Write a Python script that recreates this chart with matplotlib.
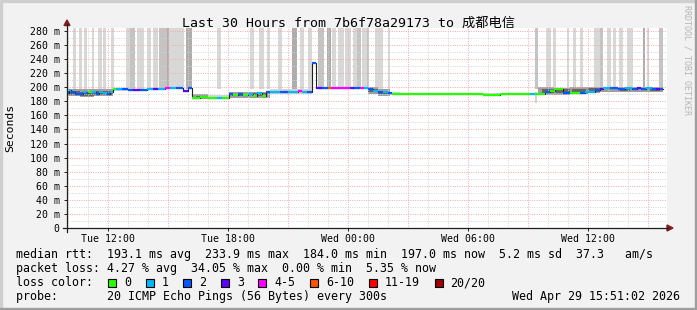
import numpy as np
import matplotlib
matplotlib.use('Agg')
import matplotlib.pyplot as plt
from matplotlib.lines import Line2D
from matplotlib.patches import Polygon, Rectangle

plt.rcParams['font.family'] = ['DejaVu Sans Mono', 'Noto Sans CJK SC']

W, H = 697, 310

# time axis: hours since Tue 00:00
t_start, t_end = 9.95, 39.95

# median rtt (ms), step segments starting at med_t, with loss class
med_t = [9.95, 10.05, 10.15, 10.35, 10.55, 10.75, 10.90, 11.00, 11.20, 11.40, 11.55, 11.75, 11.95, 12.10,
         12.25, 12.40, 12.70, 13.00, 13.25, 13.60, 13.95, 14.25, 14.50, 14.85, 15.10, 15.40, 15.75, 16.00,
         16.20, 16.60, 16.95, 17.45, 17.70, 18.05, 18.25, 18.50, 18.75, 19.00, 19.25, 19.45, 19.70, 19.90,
         20.10, 20.60, 21.00, 21.50, 21.70, 21.95, 22.20, 22.40, 22.70, 23.00, 23.15, 24.10, 24.30, 24.60,
         24.80, 25.00, 25.25, 25.50, 25.75, 26.00, 26.20, 30.25, 30.45, 30.75, 31.60, 31.85, 32.10, 32.35,
         32.60, 33.10, 33.35, 33.50, 33.85, 34.10, 34.35, 34.75, 35.10, 35.35, 35.60, 35.85, 36.10, 36.35,
         36.60, 36.75, 37.10, 37.50, 37.85, 38.20, 38.45, 38.65, 38.90, 39.20, 39.40, 39.60]
med_v = [192, 196, 193, 191, 190, 193, 192, 194, 193, 191, 194, 192, 190, 193,
         197, 197, 197, 196, 196, 196, 197, 197, 197, 199, 199, 199, 195, 199,
         185, 186, 185, 185, 185, 190, 189, 190, 189, 191, 188, 192, 187, 193,
         194, 194, 194, 195, 194, 194, 234, 199, 199, 199, 199, 199, 199, 199,
         199, 197, 195, 194, 193, 192, 190.5, 191, 190, 189, 190, 191, 190, 191,
         190, 190, 191, 191, 193, 195, 197, 192, 192, 191.5, 192, 193, 194, 196,
         197, 199, 199, 198, 199, 198, 199, 198, 199, 198, 198, 197]
med_loss = [2, 1, 2, 2, 2, 1, 2, 0, 1, 2, 1, 1, 2, 1,
            0, 1, 2, 2, 3, 2, 1, 3, 1, 4, 1, 2, 3, 2,
            0, 0, 0, 1, 0, 2, 0, 2, 0, 1, 0, 1, 0, 2,
            1, 2, 1, 4, 1, 2, 2, 3, 2, 5, 4, 3, 2, 4,
            1, 2, 1, 2, 1, 2, 0, 0, 0, 0, 0, 0, 0, 0,
            0, 1, 0, 0, 2, 0, 0, 2, 0, 0, 2, 1, 1, 2,
            3, 1, 2, 2, 1, 2, 3, 2, 1, 2, 3, 2]
med_last = 39.75

# smoke around the median: start, end, low, high (ms), density 1-3
smoke_t0 = [9.95, 9.95, 10.6, 10.6, 11.3, 11.3, 12.25,
            16.2, 16.4, 17.0, 18.05, 18.2, 19.0, 19.2, 20.1, 21.0,
            22.4, 25.0, 25.0, 25.5, 25.5, 26.1, 30.25,
            33.35, 33.5, 33.7, 34.3, 34.4, 35.1, 35.2, 36.0, 36.0,
            36.6, 37.4, 37.6, 38.2, 39.0, 39.1]
smoke_t1 = [10.6, 10.6, 11.3, 11.3, 12.25, 12.25, 13.3,
            17.0, 16.9, 18.05, 19.0, 18.9, 20.1, 19.9, 21.0, 22.2,
            25.0, 25.5, 25.5, 26.1, 26.0, 26.6, 33.1,
            33.45, 34.3, 34.3, 35.1, 35.1, 36.0, 35.9, 36.6, 36.6,
            37.4, 38.2, 38.1, 39.0, 39.75, 39.6]
smoke_lo = [187, 189, 186, 188, 187, 189, 195,
            184, 185, 184, 185, 187, 185, 187, 190, 191,
            197, 191, 193, 188, 190, 189, 188.5,
            178, 189, 192, 189, 192, 190, 192, 192, 194,
            194, 193, 195, 194, 193, 195]
smoke_hi = [198, 195, 197, 194, 197, 195, 199,
            190, 188, 189, 193, 191, 194, 192, 197, 197,
            201, 200, 198, 197, 195, 194, 192,
            194, 200, 198, 199, 197, 200, 198, 200, 199,
            201, 201, 199, 201, 201, 199]
smoke_n = [2, 3, 2, 3, 2, 3, 1,
           2, 3, 1, 2, 3, 2, 3, 1, 1,
           1, 2, 3, 2, 3, 1, 1,
           1, 2, 3, 2, 3, 2, 3, 2, 3,
           2, 2, 3, 2, 2, 3]

# pings above 280 ms: start, end, how many
spike_t0 = [10.25, 10.55, 10.80, 11.20, 11.50, 11.75, 12.15, 12.90, 13.10, 13.45, 13.95, 14.25, 14.55,
            14.95, 15.05, 15.45, 15.90, 17.45, 19.10, 19.55, 19.95, 20.50, 21.20, 21.60, 22.00, 22.50,
            22.95, 23.20, 23.50, 23.85, 24.25, 24.45, 24.70, 24.95, 25.35, 25.50, 26.00, 33.35, 33.90,
            34.25, 34.95, 35.25, 35.60, 36.30, 36.60, 36.95, 37.25, 37.55, 37.95, 38.75, 38.95, 39.55]
spike_t1 = [10.40, 10.70, 10.95, 11.30, 11.70, 11.90, 12.30, 13.10, 13.35, 13.80, 14.15, 14.50, 14.95,
            15.10, 15.50, 15.80, 16.20, 17.65, 19.30, 19.80, 20.10, 20.70, 21.45, 21.80, 22.20, 22.80,
            23.15, 23.40, 23.80, 24.15, 24.50, 24.65, 24.95, 25.05, 25.50, 25.75, 26.10, 33.50, 34.15,
            34.40, 35.05, 35.40, 35.75, 36.60, 36.75, 37.15, 37.40, 37.75, 38.25, 38.85, 39.05, 39.75]
spike_n = [1, 1, 1, 1, 1, 1, 1, 1, 2, 1, 1, 1, 2,
           3, 1, 1, 3, 1, 1, 1, 1, 1, 3, 1, 1, 2,
           3, 1, 1, 1, 1, 2, 1, 2, 1, 1, 1, 2, 1,
           1, 1, 1, 1, 1, 2, 1, 1, 1, 1, 3, 1, 2]
spike_lo, spike_hi = 197, 300

loss_colors = ['#26ff00', '#00b8ff', '#0059ff', '#5e00ff', '#ff00ff', '#ff5500', '#ff0000', '#a10000']
loss_labels = ['0', '1', '2', '3', '4-5', '6-10', '11-19', '20/20']

xtick_pos = [12, 18, 24, 30, 36]
xtick_lab = ['Tue 12:00', 'Tue 18:00', 'Wed 00:00', 'Wed 06:00', 'Wed 12:00']
ytick_pos = list(range(0, 281, 20))
ytick_lab = ['0' if v == 0 else '%d m' % v for v in ytick_pos]

title = 'Last 30 Hours from 7b6f78a29173 to 成都电信'
line_rtt = 'median rtt:  193.1 ms avg  233.9 ms max  184.0 ms min  197.0 ms now  5.2 ms sd  37.3   am/s'
line_loss = 'packet loss: 4.27 % avg  34.05 % max  0.00 % min  5.35 % now'
line_probe = 'probe:       20 ICMP Echo Pings (56 Bytes) every 300s'
stamp = 'Wed Apr 29 15:51:02 2026'

smoke_grey = {1: '#d4d4d4', 2: '#a0a0a0', 3: '#666666'}
spike_grey = {1: '#d8d8d8', 2: '#c4c4c4', 3: '#adadad'}


def fx(px):
    return px / W


def fy(py):
    return 1 - py / H


fig = plt.figure(figsize=(W / 100, H / 100), dpi=100, facecolor='#f2f2f2')
ax = fig.add_axes([fx(67), fy(228), 600 / W, 200 / H])
ax.set_facecolor('white')
ax.set_xlim(t_start, t_end)
ax.set_ylim(0, 284.25)

# tall smoke
ax.bar(spike_t0, spike_hi - spike_lo, width=np.subtract(spike_t1, spike_t0), bottom=spike_lo,
       align='edge', color=[spike_grey[n] for n in spike_n], linewidth=0, zorder=1)
# smoke around median
ax.bar(smoke_t0, np.subtract(smoke_hi, smoke_lo), width=np.subtract(smoke_t1, smoke_t0), bottom=smoke_lo,
       align='edge', color=[smoke_grey[n] for n in smoke_n], linewidth=0, zorder=1.5)

# grid
dot = (0, (1, 1.4))
for h in range(10, 40):
    c = '#f2a8a8' if h % 3 == 0 else '#d4d4d4'
    ax.axvline(h, color=c, lw=0.7, ls=dot, zorder=2)
for v in range(10, 285, 10):
    c = '#f2a8a8' if v % 20 == 0 else '#d4d4d4'
    ax.axhline(v, color=c, lw=0.7, ls=dot, zorder=2)

# median line + loss colours
ax.step(med_t + [med_last], med_v + [med_v[-1]], where='post', color='#202020', lw=0.8, zorder=3)
ax.hlines(med_v, med_t, med_t[1:] + [med_last], colors=[loss_colors[c] for c in med_loss],
          lw=1.6, zorder=4)

for s in ax.spines.values():
    s.set_visible(False)
ax.set_xticks(xtick_pos, xtick_lab, fontsize=7.1)
ax.set_yticks(ytick_pos, ytick_lab, fontsize=7.1)
ax.tick_params(axis='x', length=2.5, width=0.7, color='#1f1f1f', pad=1.5)
ax.tick_params(axis='y', length=2.2, width=0.7, color='#1f1f1f', pad=3)

# axes with arrows
fig.add_artist(Line2D([fx(63), fx(668)], [fy(228), fy(228)], color='#1f1f1f', lw=0.9))
fig.add_artist(Line2D([fx(67), fx(67)], [fy(232), fy(24)], color='#1f1f1f', lw=0.9))
fig.add_artist(Polygon([[fx(64), fy(25.5)], [fx(70), fy(25.5)], [fx(67), fy(20)]],
                       closed=True, color='#801f1f', transform=fig.transFigure))
fig.add_artist(Polygon([[fx(667), fy(225)], [fx(667), fy(231)], [fx(673), fy(228)]],
                       closed=True, color='#801f1f', transform=fig.transFigure))

# frame
fig.add_artist(Rectangle((0, fy(2)), 1, 2 / H, color='#cfcfcf', transform=fig.transFigure))
fig.add_artist(Rectangle((0, 0), 2 / W, 1, color='#cfcfcf', transform=fig.transFigure))
fig.add_artist(Rectangle((0, 0), 1, 2 / H, color='#9e9e9e', transform=fig.transFigure))
fig.add_artist(Rectangle((fx(695), 0), 2 / W, 1, color='#9e9e9e', transform=fig.transFigure))

fig.text(fx(348.5), fy(27), title, ha='center', va='baseline', fontsize=9.5)
fig.text(fx(10), fy(128), 'Seconds', rotation=90, ha='center', va='center', fontsize=8.2)
fig.text(fx(687), fy(5), 'RRDTOOL / TOBI OETIKER', rotation=270, ha='center', va='top',
         fontsize=6, color='#b5b5b5')

fs = 8.4
fig.text(fx(16), fy(258), line_rtt, fontsize=fs, va='baseline')
fig.text(fx(16), fy(272), line_loss, fontsize=fs, va='baseline')
fig.text(fx(16), fy(286), 'loss color:', fontsize=fs, va='baseline')
fig.text(fx(16), fy(300), line_probe, fontsize=fs, va='baseline')
fig.text(fx(680), fy(300), stamp, fontsize=fs, va='baseline', ha='right')

cw = 7.02
x = 108.0
for lab, col in zip(loss_labels, loss_colors):
    fig.add_artist(Rectangle((fx(x), fy(286.5)), 8 / W, 8 / H, facecolor=col, edgecolor='black',
                             lw=0.8, transform=fig.transFigure))
    fig.text(fx(x + 16), fy(286), lab, fontsize=fs, va='baseline')
    x += 16 + len(lab) * cw + 14.6

fig.savefig('out.png', dpi=100, facecolor=fig.get_facecolor())
